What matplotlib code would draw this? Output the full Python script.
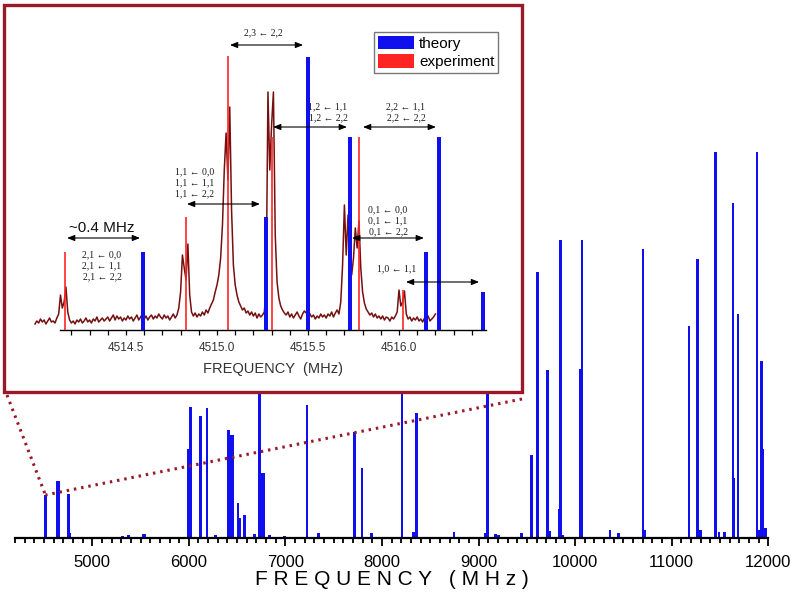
import numpy as np
import matplotlib
matplotlib.use('Agg')
import matplotlib.pyplot as plt
from matplotlib.patches import Rectangle, Patch
from matplotlib.lines import Line2D
from matplotlib.ticker import MultipleLocator, FixedLocator

plt.rcParams['font.family'] = ['Liberation Sans', 'DejaVu Sans']

# ---- main spectrum (theory), frequency in MHz, intensity in arb. units ----
theory_freq = [4515, 4522, 4640, 4650, 4755, 4770, 5310, 5378, 5527, 5545,
               5999, 6017, 6120, 6189, 6275, 6413, 6437, 6454, 6510, 6525,
               6575, 6681, 6733, 6758, 6775, 6834, 6992, 7223, 7343, 7716,
               7792, 7895, 8206, 8323, 8354, 8747, 9075, 9091, 9178, 9205,
               9447, 9550, 9612, 9716, 9739, 9836, 9850, 9870, 10050, 10070,
               10360, 10446, 10704, 10720, 11180, 11270, 11298, 11456, 11490, 11549,
               11635, 11645, 11687, 11883, 11900, 11929, 11945, 11970]
theory_int = [43, 30, 57, 57, 44, 5, 2.5, 3, 4, 4,
              89, 131, 122, 130, 3, 108, 103, 103, 35, 20,
              23, 4, 250, 65, 65, 3, 2, 133, 5, 106,
              70, 5, 300, 6, 125, 6, 5, 260, 4, 3,
              5, 83, 266, 168, 7, 29, 298, 3, 169, 298,
              8, 5, 289, 8, 212, 279, 8, 386, 6, 6,
              335, 60, 224, 386, 8, 177, 89, 10]

# ---- inset: zoom on the 4515 MHz line ----
inset_theory_freq = [4514.595, 4515.27, 4515.50, 4515.73, 4516.15, 4516.22, 4516.46]
inset_theory_int = [78, 113, 273, 193, 78, 193, 38]
inset_exp_freq = [4514.165, 4514.83, 4515.06, 4515.30, 4515.78, 4516.02]
inset_exp_int = [78, 113, 274, 193, 193, 40]

# measured trace, 0.01 MHz steps from 4514.00 MHz
trace_start = 4514.00
trace_step = 0.01
trace_int = [
    6, 9, 7, 11, 8, 10, 6, 9, 12, 8,            # 4514.0
    9, 7, 12, 16, 35, 22, 28, 43, 18, 10,       # 4514.1
    7, 9, 6, 10, 8, 11, 7, 9, 12, 8,            # 4514.2
    10, 7, 11, 9, 13, 8, 10, 12, 9, 11,         # 4514.3
    13, 9, 12, 15, 10, 14, 11, 13, 9, 12,       # 4514.4
    10, 14, 11, 13, 9, 12, 15, 10, 13, 16,      # 4514.5
    11, 14, 10, 13, 15, 11, 14, 12, 16, 13,     # 4514.6
    11, 15, 12, 14, 10, 13, 16, 12, 15, 22,     # 4514.7
    38, 75, 62, 50, 86, 35, 18, 14, 17, 13,     # 4514.8
    16, 14, 18, 15, 20, 17, 22, 26, 30, 38,     # 4514.9
    45, 55, 72, 105, 160, 197, 150, 223, 120, 65,   # 4515.0
    45, 35, 28, 24, 20, 22, 17, 19, 15, 18,     # 4515.1
    14, 17, 12, 16, 13, 15, 18, 40, 238, 160,   # 4515.2
    205, 238, 95, 48, 32, 24, 20, 17, 15, 18,   # 4515.3
    13, 16, 12, 15, 18, 14, 11, 16, 19, 17,     # 4515.4
    21, 16, 13, 15, 11, 14, 12, 16, 13, 15,     # 4515.5
    12, 16, 14, 18, 13, 17, 20, 16, 28, 65,     # 4515.6
    125, 75, 115, 62, 55, 72, 102, 82, 109, 62, # 4515.7
    38, 27, 21, 18, 15, 17, 13, 16, 12, 14,     # 4515.8
    11, 14, 10, 13, 12, 9, 13, 11, 14, 18,      # 4515.9
    40, 24, 28, 39, 16, 11, 13, 9, 12, 10,      # 4516.0
    13, 9, 11, 8, 12, 10, 14, 9, 11, 13,        # 4516.1
    16]
trace_freq = trace_start + trace_step * np.arange(len(trace_int))

# transition labels (text, x in MHz, y) and arrows (x0, x1, y)
label_texts = ['2,3 \u2190 2,2',
               '1,2 \u2190 1,1\n1,2 \u2190 2,2',
               '2,2 \u2190 1,1\n2,2 \u2190 2,2',
               '1,1 \u2190 0,0\n1,1 \u2190 1,1\n1,1 \u2190 2,2',
               '2,1 \u2190 0,0\n2,1 \u2190 1,1\n2,1 \u2190 2,2',
               '0,1 \u2190 0,0\n0,1 \u2190 1,1\n0,1 \u2190 2,2',
               '1,0 \u2190 1,1']
label_x = [4515.253, 4515.61, 4516.038, 4514.879, 4514.368, 4515.94, 4515.989]
label_y = [297, 217.5, 217.5, 147.5, 64.5, 109, 61]
arrow_x0 = [4515.071, 4515.308, 4515.802, 4514.835, 4514.176, 4515.742, 4516.038]
arrow_x1 = [4515.473, 4515.714, 4516.203, 4515.236, 4514.577, 4516.137, 4516.44]
arrow_y = [285, 203, 203, 126, 92, 92, 48]

blue = '#1010ee'
red = '#ff2424'
maroon = '#9a1828'
W, H = 800, 603

fig = plt.figure(figsize=(W / 100, H / 100), dpi=100)

# main axes
ax = fig.add_axes([15 / W, (H - 538) / H, 753.3 / W, 400 / H])
ax.bar(theory_freq, theory_int, width=28, color=blue, linewidth=0)
ax.set_xlim(4200, 12000)
ax.set_ylim(0, 400)
for s in ['top', 'left', 'right']:
    ax.spines[s].set_visible(False)
ax.spines['bottom'].set_linewidth(1.6)
ax.set_yticks([])
ax.xaxis.set_major_locator(MultipleLocator(1000))
ax.xaxis.set_minor_locator(MultipleLocator(100))
ax.tick_params(axis='x', which='major', length=6, width=1.3, labelsize=12, pad=6)
ax.tick_params(axis='x', which='minor', length=3.5, width=1.3)
ax.set_xlabel('F R E Q U E N C Y   ( M H z )', fontsize=15)
ax.xaxis.set_label_coords(0.5, -0.08)

# inset frame
rx0, ry0, rx1, ry1 = 4, 392, 522, 5
frame = Rectangle((rx0 / W, (H - ry0) / H), (rx1 - rx0) / W, (ry0 - ry1) / H,
                  transform=fig.transFigure, facecolor='white', edgecolor=maroon,
                  linewidth=2.4, zorder=2)
fig.add_artist(frame)

# dotted zoom lines from the 4515 MHz bar to the frame
tip = fig.transFigure.inverted().transform(
    ax.transData.transform((theory_freq[0], theory_int[0])))
for (x0, y0) in [(rx0 + 3, ry0 + 3), (rx1, ry0 + 7)]:
    fig.add_artist(Line2D([x0 / W, tip[0]], [(H - y0) / H, tip[1]],
                          transform=fig.transFigure, color=maroon, lw=2.2,
                          linestyle=(0, (0.8, 1.6)), zorder=1))

# inset axes
axin = fig.add_axes([28 / W, (H - 330) / H, 472 / W, 300 / H])
axin.set_zorder(3)
axin.patch.set_visible(False)
axin.plot(trace_freq, trace_int, color='#741010', lw=1.1, zorder=2)
axin.bar(inset_theory_freq, inset_theory_int, width=0.022, color=blue, linewidth=0, zorder=3)
axin.vlines(inset_exp_freq, 0, inset_exp_int, color=red, lw=1.2, zorder=4)
axin.set_xlim(4514.5 + (28 - 126) / 182, 4514.5 + (500 - 126) / 182)
axin.set_ylim(0, 300)
for s in ['top', 'left', 'right']:
    axin.spines[s].set_visible(False)
axin.spines['bottom'].set_bounds(4514.14, 4516.48)
axin.spines['bottom'].set_linewidth(1.0)
axin.set_yticks([])
axin.xaxis.set_major_locator(FixedLocator([4514.5, 4515.0, 4515.5, 4516.0]))
axin.xaxis.set_minor_locator(FixedLocator(np.round(np.arange(4514.2, 4516.45, 0.1), 1)))
axin.xaxis.set_major_formatter(plt.FormatStrFormatter('%.1f'))
axin.tick_params(axis='x', which='both', length=3.5, width=0.9, labelsize=8.5,
                 labelcolor='#333333', pad=5)
axin.set_xlabel('FREQUENCY  (MHz)', fontsize=10.5, color='#333333')
axin.xaxis.set_label_coords(0.52, -0.105)

for txt, x, y in zip(label_texts, label_x, label_y):
    axin.text(x, y, txt, ha='center', va='center', fontsize=7, color='#1a1a1a',
              family=['Liberation Serif', 'DejaVu Serif'], linespacing=1.3, zorder=5)
for x0, x1, y in zip(arrow_x0, arrow_x1, arrow_y):
    axin.annotate('', xy=(x1, y), xytext=(x0, y),
                  arrowprops=dict(arrowstyle='<|-|>,head_length=0.45,head_width=0.18',
                                  color='black', lw=0.8, shrinkA=0, shrinkB=0), zorder=5)
axin.text(4514.368, 102, '~0.4 MHz', ha='center', va='center', fontsize=11, color='#111111')

# legend
handles = [Patch(facecolor=blue, edgecolor='none'), Patch(facecolor=red, edgecolor='none')]
leg = fig.legend(handles, ['theory', 'experiment'], loc='upper left',
                 bbox_to_anchor=(374 / W, (H - 32) / H), bbox_transform=fig.transFigure,
                 fontsize=11, handlelength=2.4, handleheight=1.0, handletextpad=0.3,
                 labelspacing=0.2, borderpad=0.25, borderaxespad=0, fancybox=False,
                 edgecolor='#777777', framealpha=1)
leg.get_frame().set_linewidth(1.0)
leg.set_zorder(6)

fig.savefig('out.png', dpi=100)
